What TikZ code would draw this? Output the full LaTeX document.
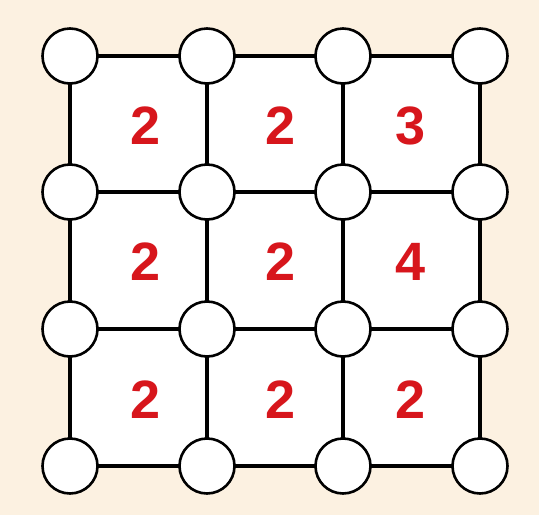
\documentclass[tikz,border=0pt]{standalone}
\usepackage{fontspec}
\setmainfont{Liberation Sans}
\definecolor{bg}{HTML}{FCF1E1}
\definecolor{numred}{HTML}{D7161C}
\tikzset{
  dot/.style={circle,draw=black,line width=2.6pt,fill=white,minimum size=55pt,inner sep=0pt},
  edge/.style={line width=3.6pt,black},
  num/.style={text=numred,font=\bfseries\fontsize{54}{54}\selectfont,inner sep=0pt}
}
\begin{document}
\begin{tikzpicture}[x=1pt,y=-1pt]
\fill[bg] (0,0) rectangle (539,515);
\useasboundingbox (0,0) rectangle (539,515);
\fill[white] (70,56) rectangle (480,466);
\foreach \c/\x in {0/70,1/207,2/343,3/480}{
  \foreach \r/\y in {0/56,1/192,2/329,3/466}{
    \coordinate (p\c\r) at (\x,\y);
  }
}
\foreach \r in {0,1,2,3}{
  \draw[edge] (p0\r) -- (p1\r) -- (p2\r) -- (p3\r);
  \draw[edge] (p\r0) -- (p\r1) -- (p\r2) -- (p\r3);
}
\foreach \c in {0,1,2,3}{
  \foreach \r in {0,1,2,3}{
    \node[dot] (n\c\r) at (p\c\r) {};
  }
}
\node[num] (t00) at (146,126) {2};
\node[num] (t10) at (281,126) {2};
\node[num] (t20) at (411,126) {3};
\node[num] (t01) at (146,262) {2};
\node[num] (t11) at (281,262) {2};
\node[num] (t21) at (411,262) {4};
\node[num] (t02) at (146,400) {2};
\node[num] (t12) at (281,400) {2};
\node[num] (t22) at (411,400) {2};
\end{tikzpicture}
\end{document}
